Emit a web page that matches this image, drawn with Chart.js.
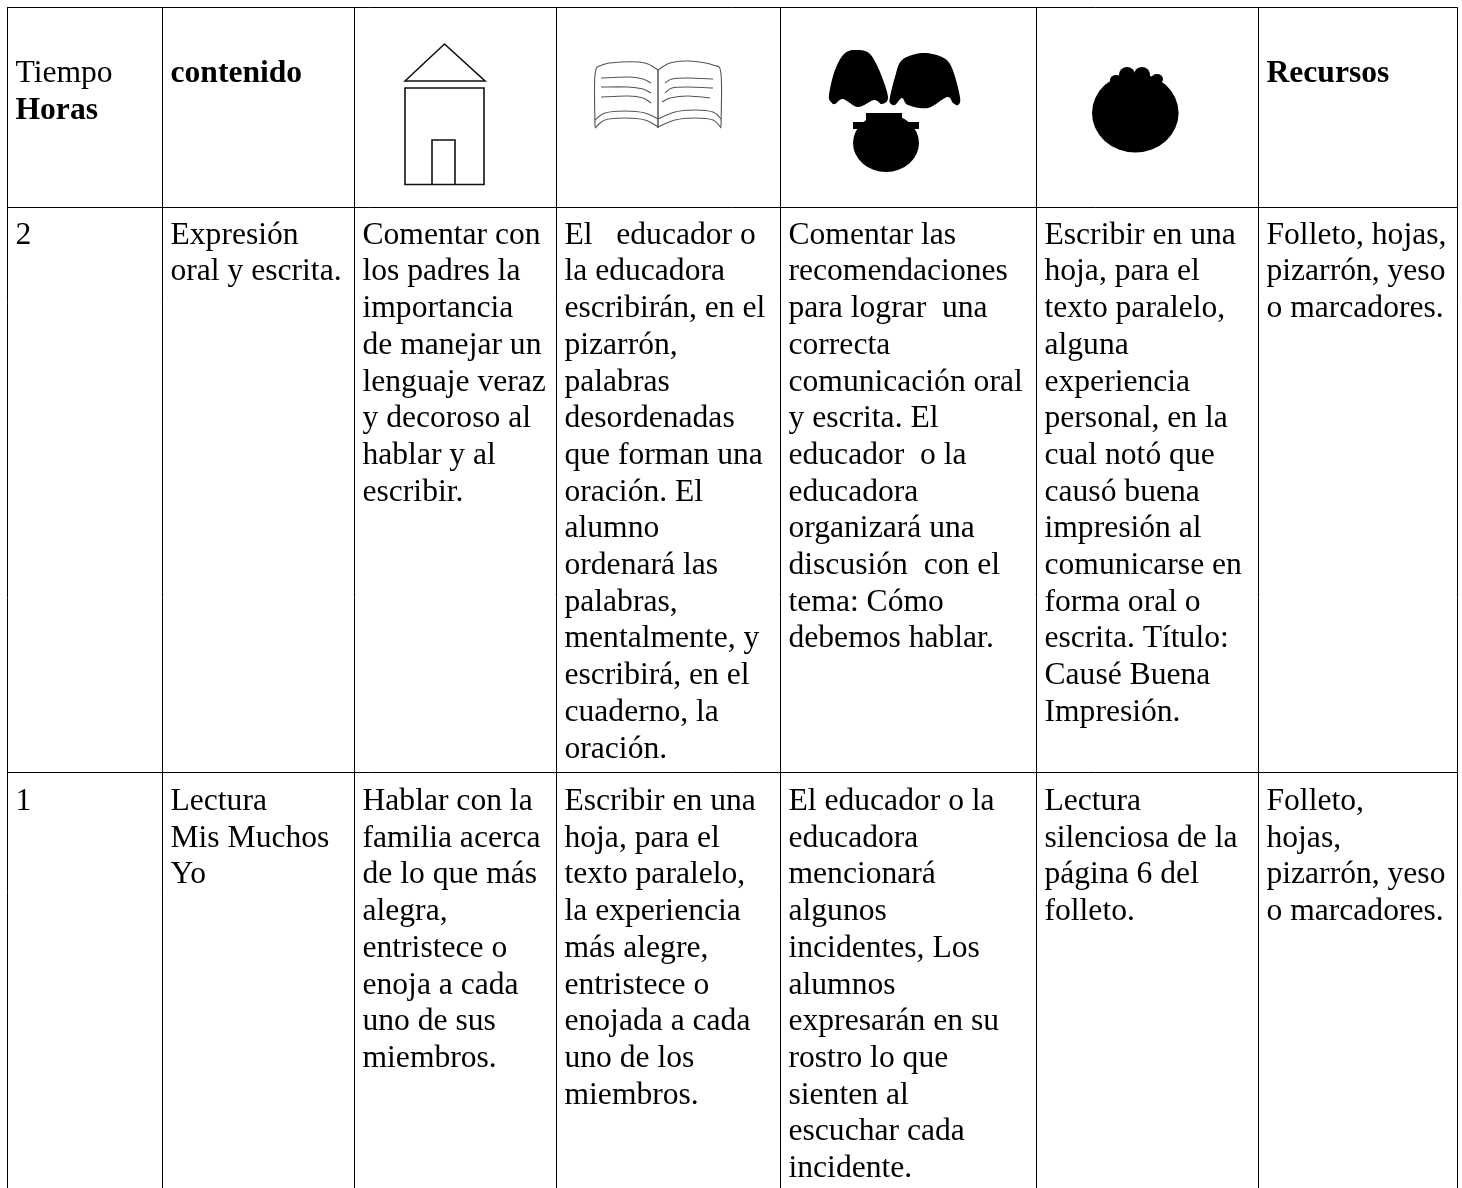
<!DOCTYPE html>
<html>
<head>
<meta charset="utf-8">
<title>Tiempo Horas contenido Recursos</title>
<script src="https://cdn.jsdelivr.net/npm/chart.js@4/dist/chart.umd.min.js"></script>
<style>
  html, body { margin: 0; padding: 0; background: #fff; }
  canvas { display: block; }
</style>
</head>
<body>
<canvas id="tabla" width="1462" height="1188"></canvas>
<script>
// ===== tick values of the two axes: the table's rules =====
var columnTicks = [7.5, 162.5, 354.5, 556.5, 780.5, 1036.5, 1258.5, 1457.5];
var rowTicks = [7.5, 207.5, 772.5];

// ===== cell texts, one list per row, one list of lines per cell =====
var headerCells = [
  [{ t: 'Tiempo' }, { t: 'Horas', b: true }],
  [{ t: 'contenido', b: true }],
  [], [], [], [],
  [{ t: 'Recursos', b: true }]
];
var firstRowCells = [
  ['2'],
  ['Expresión', 'oral y escrita.'],
  ['Comentar con', 'los padres la', 'importancia', 'de manejar un', 'lenguaje veraz', 'y decoroso al', 'hablar y al', 'escribir.'],
  ['El   educador o', 'la educadora', 'escribirán, en el', 'pizarrón,', 'palabras', 'desordenadas', 'que forman una', 'oración. El', 'alumno', 'ordenará las', 'palabras,', 'mentalmente, y', 'escribirá, en el', 'cuaderno, la', 'oración.'],
  ['Comentar las', 'recomendaciones', 'para lograr  una', 'correcta', 'comunicación oral', 'y escrita. El', 'educador  o la', 'educadora', 'organizará una', 'discusión  con el', 'tema: Cómo', 'debemos hablar.'],
  ['Escribir en una', 'hoja, para el', 'texto paralelo,', 'alguna', 'experiencia', 'personal, en la', 'cual notó que', 'causó buena', 'impresión al', 'comunicarse en', 'forma oral o', 'escrita. Título:', 'Causé Buena', 'Impresión.'],
  ['Folleto, hojas,', 'pizarrón, yeso', 'o marcadores.']
];
var secondRowCells = [
  ['1'],
  ['Lectura', 'Mis Muchos', 'Yo'],
  ['Hablar con la', 'familia acerca', 'de lo que más', 'alegra,', 'entristece o', 'enoja a cada', 'uno de sus', 'miembros.'],
  ['Escribir en una', 'hoja, para el', 'texto paralelo,', 'la experiencia', 'más alegre,', 'entristece o', 'enojada a cada', 'uno de los', 'miembros.'],
  ['El educador o la', 'educadora', 'mencionará', 'algunos', 'incidentes, Los', 'alumnos', 'expresarán en su', 'rostro lo que', 'sienten al', 'escuchar cada', 'incidente.'],
  ['Lectura', 'silenciosa de la', 'página 6 del', 'folleto.'],
  ['Folleto,', 'hojas,', 'pizarrón, yeso', 'o marcadores.']
];

var LINE_HEIGHT = 36.7;
var CELL_PAD = 8;
var FONT = '"Liberation Serif", "Times New Roman", serif';

// dibuja las filas de texto a partir de las escalas
var cellTextPlugin = {
  id: 'cellText',
  afterDraw: function(chart) {
    var ctx = chart.ctx, x = chart.scales.x, y = chart.scales.y;
    ctx.save();
    ctx.fillStyle = '#000';
    ctx.textBaseline = 'alphabetic';
    ctx.textAlign = 'left';
    function drawRow(cells, firstBaseline) {
      cells.forEach(function(lines, c) {
        lines.forEach(function(line, i) {
          var text = typeof line === 'string' ? line : line.t;
          ctx.font = (line.b ? 'bold ' : '') + '31.6px ' + FONT;
          ctx.fillText(text, x.getPixelForValue(columnTicks[c] + CELL_PAD), y.getPixelForValue(firstBaseline + i * LINE_HEIGHT));
        });
      });
    }
    drawRow(headerCells, 82);
    drawRow(firstRowCells, 243.7);
    drawRow(secondRowCells, 810);
    ctx.restore();
  }
};

// iconos de la cabecera
var headerIconsPlugin = {
  id: 'headerIcons',
  afterDraw: function(chart) {
    var ctx = chart.ctx, sx = chart.scales.x, sy = chart.scales.y;
    function X(v) { return sx.getPixelForValue(v); }
    function Y(v) { return sy.getPixelForValue(v); }
    function poly(pts, close) {
      ctx.beginPath();
      pts.forEach(function(p, i) { if (i) ctx.lineTo(X(p[0]), Y(p[1])); else ctx.moveTo(X(p[0]), Y(p[1])); });
      if (close) ctx.closePath();
    }
    // catmull-rom que pasa por todos los puntos
    function spline(pts, close) {
      var n = pts.length, count = close ? n : n - 1;
      function at(i) {
        if (close) return pts[(i + n) % n];
        return pts[Math.max(0, Math.min(n - 1, i))];
      }
      ctx.beginPath();
      ctx.moveTo(X(pts[0][0]), Y(pts[0][1]));
      for (var i = 0; i < count; i++) {
        var p0 = at(i - 1), p1 = at(i), p2 = at(i + 1), p3 = at(i + 2);
        ctx.bezierCurveTo(
          X(p1[0] + (p2[0] - p0[0]) / 6), Y(p1[1] + (p2[1] - p0[1]) / 6),
          X(p2[0] - (p3[0] - p1[0]) / 6), Y(p2[1] - (p3[1] - p1[1]) / 6),
          X(p2[0]), Y(p2[1])
        );
      }
      if (close) ctx.closePath();
    }
    function ellipse(cx, cy, rx, ry) {
      ctx.beginPath();
      ctx.ellipse(X(cx), Y(cy), rx, ry, 0, 0, Math.PI * 2);
      ctx.fill();
    }

    ctx.save();
    // casa
    ctx.strokeStyle = '#111';
    ctx.lineWidth = 1.6;
    poly([[405, 81], [444.5, 44], [485, 81]], true); ctx.stroke();
    poly([[405, 88], [484, 88], [484, 184.5], [405, 184.5]], true); ctx.stroke();
    poly([[432, 184.5], [432, 140], [455, 140], [455, 184.5]], false); ctx.stroke();

    // libro
    ctx.strokeStyle = '#555';
    ctx.lineWidth = 1.1;
    [
      [[595, 127], [595, 75], [602, 65], [622, 62], [645, 63], [658, 70]],
      [[658, 70], [670, 63], [688, 61], [713, 65], [721, 74], [721, 127]],
      [[595, 120], [605, 113], [625, 111], [645, 113], [658, 119]],
      [[595, 128], [605, 120], [625, 118], [645, 120], [658, 127]],
      [[658, 119], [675, 112], [695, 110], [713, 112], [721, 119]],
      [[658, 127], [675, 120], [695, 118], [713, 120], [721, 128]],
      [[601, 78], [628, 77], [643, 79], [651, 83]],
      [[601, 87], [628, 87], [643, 89], [651, 93]],
      [[601, 97], [628, 96], [643, 98], [651, 103]],
      [[665, 83], [672, 79], [688, 78], [713, 79]],
      [[665, 93], [672, 88], [688, 87], [713, 88]],
      [[662, 102], [670, 98], [688, 96], [710, 98]]
    ].forEach(function(pts) { spline(pts, false); ctx.stroke(); });
    ctx.lineWidth = 1.5;
    poly([[658, 70], [658, 128]]); ctx.stroke();

    // figuras negras
    ctx.fillStyle = '#000';
    spline([[858, 50], [870, 54], [880, 72], [888, 97], [882, 104], [874, 100], [858, 107], [843, 99], [835, 104], [831, 102], [829, 95], [835, 70], [845, 53]], true);
    ctx.fill();
    spline([[922, 53], [942, 57], [952, 68], [960, 97], [958, 105], [953, 103], [947, 97], [928, 108], [908, 105], [902, 98], [895, 105], [890, 103], [890, 97], [895, 77], [902, 60]], true);
    ctx.fill();
    poly([[866, 113], [902, 113], [902, 122], [919, 122], [919, 129], [853, 129], [853, 122], [866, 122]], true); ctx.fill();
    ellipse(886, 143, 33, 29);

    ellipse(1135.3, 113, 43.3, 39.5);
    ellipse(1127, 75, 8, 8);
    ellipse(1142, 75, 8, 8);
    ellipse(1116, 80, 6, 5);
    ellipse(1157, 79, 6, 5);
    ctx.restore();
  }
};

new Chart(document.getElementById('tabla'), {
  type: 'scatter',
  data: { datasets: [{ data: [], pointRadius: 0 }] },
  options: {
    responsive: false,
    animation: false,
    layout: { padding: { left: 7, right: 4, top: 7, bottom: 0 } },
    plugins: { legend: { display: false }, tooltip: { enabled: false }, title: { display: false } },
    scales: {
      x: {
        type: 'linear',
        min: 7,
        max: 1458,
        afterBuildTicks: function(axis) { axis.ticks = columnTicks.map(function(v) { return { value: v }; }); },
        ticks: { display: false },
        border: { display: false },
        grid: { color: '#000', lineWidth: 1, drawTicks: false }
      },
      y: {
        type: 'linear',
        reverse: true,
        min: 7,
        max: 1188,
        afterBuildTicks: function(axis) { axis.ticks = rowTicks.map(function(v) { return { value: v }; }); },
        ticks: { display: false },
        border: { display: false },
        grid: { color: '#000', lineWidth: 1, drawTicks: false }
      }
    }
  },
  plugins: [headerIconsPlugin, cellTextPlugin]
});
</script>
</body>
</html>
